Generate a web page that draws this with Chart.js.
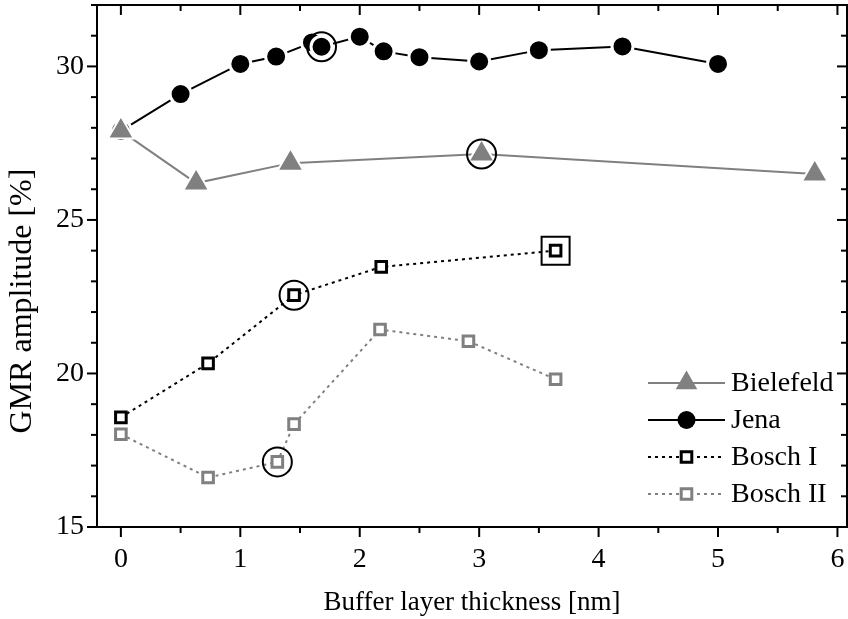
<!DOCTYPE html>
<html>
<head>
<meta charset="utf-8">
<title>GMR amplitude vs buffer layer thickness</title>
<script src="https://cdn.jsdelivr.net/npm/chart.js"></script>
<style>
  html, body { margin: 0; padding: 0; background: #fff; }
  #wrap { width: 848px; height: 619px; }
</style>
</head>
<body>
<div id="wrap"><canvas id="gmr-chart" width="848" height="619"></canvas></div>
<script>
// Buffer layer thickness [nm] / GMR amplitude [%] per group
const bielefeldX = [0, 0.63, 1.42, 3.02, 5.81];
const bielefeldY = [27.9, 26.2, 26.85, 27.15, 26.5];
const jenaX = [0, 0.5, 1.0, 1.3, 1.6, 1.68, 2.0, 2.2, 2.5, 3.0, 3.5, 4.2, 5.0];
const jenaY = [27.9, 29.1, 30.08, 30.32, 30.78, 30.64, 30.97, 30.49, 30.3, 30.16, 30.53, 30.65, 30.08];
const boschIX = [0, 0.73, 1.45, 2.18, 3.64];
const boschIY = [18.57, 20.33, 22.55, 23.47, 24.0];
const boschIIX = [0, 0.73, 1.31, 1.45, 2.17, 2.91, 3.64];
const boschIIY = [18.02, 16.61, 17.12, 18.35, 21.43, 21.05, 19.81];

const xTicks = [0, 1, 2, 3, 4, 5, 6];
const yTicks = [15, 20, 25, 30];
const xMinorStep = 0.5;
const yMinorStep = 1;

const FONT = "'Liberation Serif', 'Times New Roman', serif";
const GRAY = '#808080';

const pairs = (xs, ys) => xs.map((x, i) => ({ x, y: ys[i] }));

// samples singled out with a ring / box
const circled = [
  { x: jenaX[5], y: jenaY[5] },
  { x: bielefeldX[3], y: bielefeldY[3] },
  { x: boschIX[2], y: boschIY[2] },
  { x: boschIIX[2], y: boschIIY[2] },
];
const boxed = [{ x: boschIX[4], y: boschIY[4] }];

const series = [
  {
    label: 'Bielefeld', data: pairs(bielefeldX, bielefeldY),
    borderColor: GRAY, borderWidth: 2, borderDash: [],
    pointStyle: 'triangle', pointRadius: 15, pointBackgroundColor: GRAY,
    pointBorderColor: '#fff', pointBorderWidth: 2,
    legendMarker: { r: 12.5, fill: GRAY, stroke: GRAY, lw: 0 },
  },
  {
    label: 'Jena', data: pairs(jenaX, jenaY),
    borderColor: '#000', borderWidth: 2, borderDash: [],
    pointStyle: 'circle', pointRadius: 10.5, pointBackgroundColor: '#000',
    pointBorderColor: '#fff', pointBorderWidth: 3,
    legendMarker: { r: 9, fill: '#000', stroke: '#000', lw: 0 },
  },
  {
    label: 'Bosch I', data: pairs(boschIX, boschIY),
    borderColor: '#000', borderWidth: 2, borderDash: [3, 4],
    pointStyle: 'rect', pointRadius: 7.5, pointBackgroundColor: '#fff',
    pointBorderColor: '#000', pointBorderWidth: 3,
    legendMarker: { r: 7.5, fill: '#fff', stroke: '#000', lw: 3 },
  },
  {
    label: 'Bosch II', data: pairs(boschIIX, boschIIY),
    borderColor: GRAY, borderWidth: 2, borderDash: [3, 4],
    pointStyle: 'rect', pointRadius: 7.5, pointBackgroundColor: '#fff',
    pointBorderColor: GRAY, pointBorderWidth: 3,
    legendMarker: { r: 7.5, fill: '#fff', stroke: GRAY, lw: 3 },
  },
];

function drawMarker(ctx, style, x, y, r, fill, stroke, lw) {
  ctx.beginPath();
  if (style === 'circle') {
    ctx.arc(x, y, r, 0, Math.PI * 2);
  } else if (style === 'triangle') {
    for (let k = 0; k < 3; k++) {
      const a = k * 2 * Math.PI / 3;
      ctx.lineTo(x + Math.sin(a) * r, y - Math.cos(a) * r);
    }
    ctx.closePath();
  } else {
    const s = r * Math.SQRT1_2;
    ctx.rect(x - s, y - s, 2 * s, 2 * s);
  }
  ctx.fillStyle = fill;
  ctx.fill();
  if (lw) {
    ctx.lineWidth = lw;
    ctx.strokeStyle = stroke;
    ctx.stroke();
  }
}

// frame with ticks: outward on left/bottom, inward on top/right
const framePlugin = {
  id: 'frame',
  beforeDatasetsDraw(chart) {
    const { ctx, chartArea: a, scales: { x, y } } = chart;
    ctx.save();
    ctx.strokeStyle = '#000';
    ctx.lineWidth = 2;
    ctx.strokeRect(a.left, a.top, a.right - a.left, a.bottom - a.top);

    const major = 10, minor = 6;
    const tick = (x1, y1, x2, y2) => {
      ctx.beginPath();
      ctx.moveTo(x1, y1);
      ctx.lineTo(x2, y2);
      ctx.stroke();
    };
    for (let v = Math.ceil(x.min / xMinorStep) * xMinorStep; v <= x.max + 1e-9; v += xMinorStep) {
      const px = x.getPixelForValue(v);
      const len = xTicks.some(t => Math.abs(t - v) < 1e-6) ? major : minor;
      tick(px, a.bottom, px, a.bottom + len);
      tick(px, a.top, px, a.top + len);
    }
    for (let v = Math.ceil(y.min / yMinorStep) * yMinorStep; v <= y.max + 1e-9; v += yMinorStep) {
      const py = y.getPixelForValue(v);
      const len = yTicks.some(t => Math.abs(t - v) < 1e-6) ? major : minor;
      tick(a.left, py, a.left - len, py);
      tick(a.right, py, a.right - len, py);
    }

    // vertical axis title
    ctx.translate(y.left + 23, (a.top + a.bottom) / 2 + 35);
    ctx.rotate(-Math.PI / 2);
    ctx.fillStyle = '#000';
    ctx.font = `32px ${FONT}`;
    ctx.textAlign = 'center';
    ctx.textBaseline = 'middle';
    ctx.fillText('GMR amplitude [%]', 0, 0);
    ctx.restore();
  },
};

// legend: line sample with marker in the middle, inside the plot
const legendPlugin = {
  id: 'lineLegend',
  afterDraw(chart) {
    const { ctx, chartArea: a } = chart;
    const x0 = a.right - 199, x1 = a.right - 122, tx = a.right - 116;
    const mx = (x0 + x1) / 2;
    ctx.save();
    series.forEach((s, i) => {
      const yy = a.bottom - 144 + i * 37;
      ctx.strokeStyle = s.borderColor;
      ctx.lineWidth = s.borderWidth;
      ctx.setLineDash(s.borderDash);
      ctx.beginPath();
      ctx.moveTo(x0, yy);
      ctx.lineTo(x1, yy);
      ctx.stroke();
      ctx.setLineDash([]);
      const m = s.legendMarker;
      drawMarker(ctx, s.pointStyle, mx, yy, m.r, m.fill, m.stroke, m.lw);
      ctx.fillStyle = '#000';
      ctx.font = `28px ${FONT}`;
      ctx.textAlign = 'left';
      ctx.textBaseline = 'middle';
      ctx.fillText(s.label, tx, yy + 1);
    });
    ctx.restore();
  },
};

const ringSets = [
  {
    label: 'circled', data: circled, showLine: false, order: -1,
    pointStyle: 'circle', pointRadius: 14.5, pointBackgroundColor: 'rgba(0,0,0,0)',
    pointBorderColor: '#000', pointBorderWidth: 2,
  },
  {
    label: 'boxed', data: boxed, showLine: false, order: -1,
    pointStyle: 'rect', pointRadius: 19.8, pointBackgroundColor: 'rgba(0,0,0,0)',
    pointBorderColor: '#000', pointBorderWidth: 2,
  },
];

// fixed axis boxes, no extra room reserved for edge labels
const noEdgePadding = s => {
  s.paddingTop = 0;
  s.paddingBottom = 0;
  s.paddingLeft = 0;
  s.paddingRight = 0;
};

new Chart(document.getElementById('gmr-chart'), {
  type: 'scatter',
  data: {
    datasets: series.map(s => ({
      label: s.label,
      data: s.data,
      showLine: true,
      borderColor: s.borderColor,
      borderWidth: s.borderWidth,
      borderDash: s.borderDash,
      pointStyle: s.pointStyle,
      pointRadius: s.pointRadius,
      pointBackgroundColor: s.pointBackgroundColor,
      pointBorderColor: s.pointBorderColor,
      pointBorderWidth: s.pointBorderWidth,
      tension: 0,
    })).concat(ringSets),
  },
  options: {
    responsive: false,
    animation: false,
    events: [],
    layout: { autoPadding: false, padding: { top: 5, right: 1, left: 0, bottom: 0 } },
    plugins: { legend: { display: false }, tooltip: { enabled: false } },
    scales: {
      x: {
        type: 'linear', min: -0.2, max: 6.08,
        grid: { display: false, drawTicks: false },
        border: { display: false },
        afterBuildTicks: s => { s.ticks = xTicks.map(v => ({ value: v })); },
        afterFit: s => { s.height = 92; noEdgePadding(s); },
        ticks: { padding: 16, color: '#000', font: { family: FONT, size: 28 } },
        title: {
          display: true, text: 'Buffer layer thickness [nm]', color: '#000',
          font: { family: FONT, size: 27 }, padding: { top: 0, bottom: 0 },
        },
      },
      y: {
        type: 'linear', min: 15, max: 32,
        grid: { display: false, drawTicks: false },
        border: { display: false },
        afterBuildTicks: s => { s.ticks = yTicks.map(v => ({ value: v })); },
        afterFit: s => { s.width = 97; noEdgePadding(s); },
        ticks: { padding: 13, color: '#000', font: { family: FONT, size: 28 } },
      },
    },
  },
  plugins: [framePlugin, legendPlugin],
});
</script>
</body>
</html>
